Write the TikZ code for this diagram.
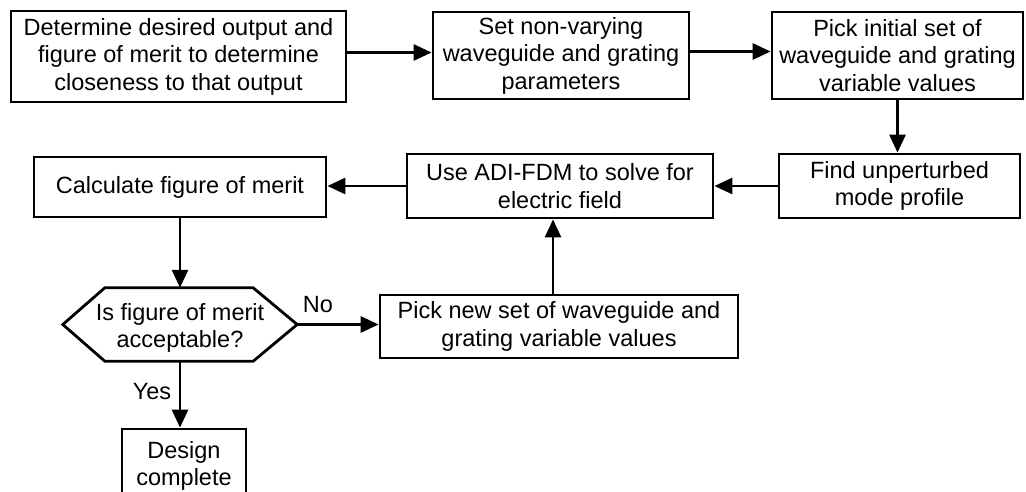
\documentclass[tikz,border=0pt]{standalone}
\usepackage{fontspec}
\setmainfont{Liberation Sans}
\usetikzlibrary{arrows.meta,calc}
\begin{document}
\begin{tikzpicture}[x=1pt,y=-1pt,
  txt/.style={font=\fontsize{23.5}{27.5}\selectfont},
  box/.style={txt, draw, line width=2.8pt, inner sep=0pt, align=center, line join=miter},
  hexnode/.style={txt, inner sep=0pt, align=center},
  flow/.style={line width=2.8pt, -{Triangle[length=18pt,width=16pt]}}]
\useasboundingbox (0,0) rectangle (1026,491);
\clip (0,0) rectangle (1026,491);

% process steps
\node[box, minimum width=335pt, minimum height=91pt] (b1) at (178.5,56.5)
  {Determine desired output and\\figure of merit to determine\\closeness to that output};
\node[box, minimum width=256pt, minimum height=87pt] (b2) at (561,55.5)
  {Set non-varying\\waveguide and grating\\parameters};
\node[box, minimum width=251pt, minimum height=87pt] (b3) at (897.5,55.5)
  {Pick initial set of\\waveguide and grating\\variable values};
\node[box, minimum width=241pt, minimum height=64pt] (b4) at (899.5,186)
  {Find unperturbed\\mode profile};
\node[box, minimum width=306pt, minimum height=64pt] (b5) at (560,186)
  {Use ADI-FDM to solve for\\electric field};
\node[box, minimum width=292pt, minimum height=60pt] (b6) at (180,187)
  {Calculate figure of merit};
\node[box, minimum width=358pt, minimum height=63pt] (b7) at (559,326.5)
  {Pick new set of waveguide and\\grating variable values};
\node[box, minimum width=124pt, minimum height=74pt] (b8) at (184,466)
  {Design\\complete};

% decision: outline node plus its text set slightly low
\node[minimum width=234pt, minimum height=73pt, inner sep=0pt] (dec) at (180,324.5) {};
\node[hexnode] (dectext) at (180,328) {Is figure of merit\\acceptable?};
\draw[line width=2.8pt, line join=miter]
  ($(dec.north west)+(42,0)$) -- ($(dec.north east)+(-44,0)$) -- (dec.east)
  -- ($(dec.south east)+(-44,0)$) -- ($(dec.south west)+(42,0)$) -- (dec.west) -- cycle;

% connectors
\draw[flow] ([yshift=4pt]b1.east) -- ([yshift=4pt]b1.east -| b2.west);
\draw[flow] ([yshift=4pt]b2.east) -- ([yshift=4pt]b2.east -| b3.west);
\draw[flow] (b3.south) -- (b3.south |- b4.north);
\draw[flow] (b4.west) -- (b4.west -| b5.east);
\draw[flow] (b5.west) -- (b5.west -| b6.east);
\draw[flow] (b6.south) -- (b6.south |- dec.north);
\draw[flow] (dec.east) -- (dec.east -| b7.west);
\draw[flow] ([xshift=-6pt]b7.north) -- ([xshift=-6pt]b7.north |- b5.south);
\draw[flow] (dec.south) -- (dec.south |- b8.north);

% branch labels
\node[txt] (no) at (318,305) {No};
\node[txt] (yes) at (152,392) {Yes};
\end{tikzpicture}
\end{document}
